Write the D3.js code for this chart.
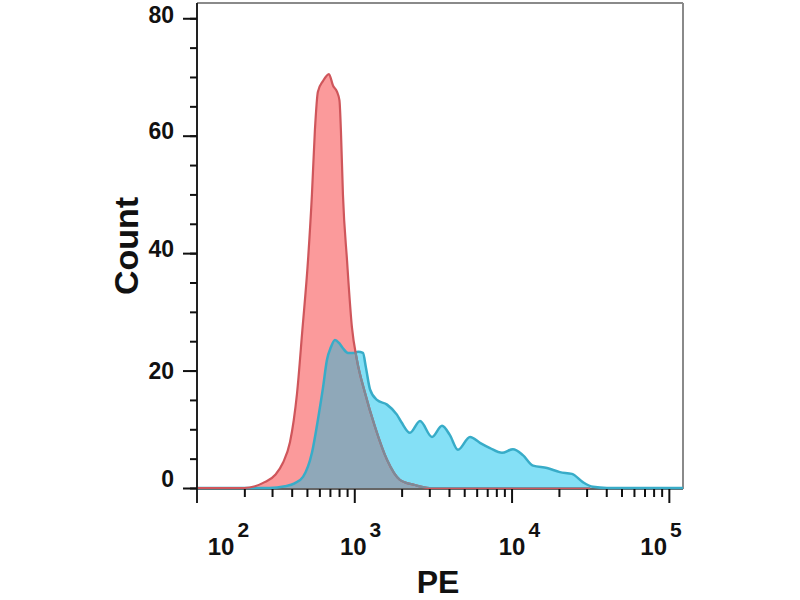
<!DOCTYPE html>
<html>
<head>
<meta charset="utf-8">
<script src="https://cdn.jsdelivr.net/npm/d3@7"></script>
<style>
  body { margin: 0; background: #fff; }
  text { font-family: "Liberation Sans", Arial, sans-serif; font-weight: bold; fill: #111; }
</style>
</head>
<body>
<svg id="chart" width="800" height="600"></svg>
<script>
// control (red) histogram, PE value -> count
const redPE    = [100, 200, 234, 269, 316, 352, 390, 412, 432, 468, 508, 538, 562, 587, 632, 690, 733, 776, 805, 822, 847, 899, 966, 1040, 1170, 1355, 1615, 1950, 2430, 3020, 31600];
const redCount = [0,   0,   0.3, 1.0, 2.3, 4.3, 7.8, 11.5, 16, 27, 38.8, 50, 61, 67.5, 69.3, 70.5, 68.5, 67.5, 66, 61, 50, 38.8, 27.4, 21.8, 16.2, 10.4, 4.8, 1.4, 0.5, 0, 0];

// stained (blue) histogram
const bluePE    = [100, 288, 363, 417, 472, 538, 587, 632, 670, 711, 753, 800, 847, 912, 982, 1057, 1135, 1186, 1259, 1393, 1615, 1866, 1995, 2259, 2618, 3119, 3614, 4055, 4560, 5445, 6295, 7295, 8690, 10200, 11800, 13700, 16800, 20300, 24200, 28400, 32900, 40400, 123000];
const blueCount = [0,   0,   0.3, 0.8, 1.9, 6,   11.6, 17, 21.8, 24, 25.2, 24.7, 23.8, 23, 23, 23.2, 23, 20.5, 16.8, 15, 14.2, 12.5, 11.2, 9.4, 11.4, 8.7, 10.6, 9, 6.5, 8.7, 7.7, 6.8, 6, 6.6, 5.6, 3.8, 3.4, 2.7, 2.4, 1, 0.2, 0, 0];

const yMajor = [0, 20, 40, 60, 80];
const yMinor = d3.range(0, 81, 5);
const yLabelAt = [1.6, 20, 40.7, 60.8, 80.6];   // label centres as drawn in the figure
const xDecades = [2, 3, 4, 5];
const xLabelLog = [2.2, 3.04, 4.05, 4.95];

const svg = d3.select('#chart');
const pLeft = 197, pRight = 683, pTop = 3, pBottom = 488;

const x = d3.scaleLog().domain([100, Math.pow(10, 5.09)]).range([pLeft, pRight]);
const y = d3.scaleLinear().domain([0, 82.6]).range([pBottom, pTop]);

const red = redPE.map((v, i) => ({ v: v, c: redCount[i] }));
const blue = bluePE.map((v, i) => ({ v: v, c: blueCount[i] }));

const area = d3.area().curve(d3.curveMonotoneX).x(d => x(d.v)).y0(y(0)).y1(d => y(d.c));
const line = d3.line().curve(d3.curveMonotoneX).x(d => x(d.v)).y(d => y(d.c));

const defs = svg.append('defs');
defs.append('clipPath').attr('id', 'clipRed').append('path').attr('d', area(red));
defs.append('clipPath').attr('id', 'clipBlue').append('path').attr('d', area(blue));

// frame
svg.append('line').attr('x1', pLeft).attr('x2', pRight).attr('y1', pTop).attr('y2', pTop)
   .attr('stroke', '#8a8a8a').attr('stroke-width', 2);
svg.append('line').attr('x1', pRight).attr('x2', pRight).attr('y1', pTop).attr('y2', pBottom + 1)
   .attr('stroke', '#8a8a8a').attr('stroke-width', 2);
svg.append('line').attr('x1', pLeft).attr('x2', pRight).attr('y1', pBottom + 1).attr('y2', pBottom + 1)
   .attr('stroke', '#333').attr('stroke-width', 1.5);

const plot = svg.append('g');
plot.append('path').attr('d', area(blue)).attr('fill', '#84e0f6');
plot.append('path').attr('d', area(red)).attr('fill', '#fb9a9b');
plot.append('path').attr('d', area(blue)).attr('fill', '#8fa8b9').attr('clip-path', 'url(#clipRed)');
plot.append('path').attr('d', line(blue)).attr('fill', 'none').attr('stroke', '#38acc8').attr('stroke-width', 2.5);
plot.append('path').attr('d', line(red)).attr('fill', 'none').attr('stroke', '#cf565b').attr('stroke-width', 2.2);
plot.append('path').attr('d', line(red)).attr('fill', 'none').attr('stroke', '#7a8b99').attr('stroke-width', 2.2)
    .attr('clip-path', 'url(#clipBlue)');

// y axis
svg.append('line').attr('x1', pLeft).attr('x2', pLeft).attr('y1', pTop).attr('y2', 503)
   .attr('stroke', '#222').attr('stroke-width', 2);

const yMinorAxis = svg.append('g').attr('transform', `translate(${pLeft},0)`)
   .call(d3.axisLeft(y).tickValues(yMinor).tickSize(7).tickFormat(''));
const yMajorAxis = svg.append('g').attr('transform', `translate(${pLeft},0)`)
   .call(d3.axisLeft(y).tickValues(yMajor).tickSize(14).tickFormat(''));
[yMinorAxis, yMajorAxis].forEach(g => {
  g.select('.domain').remove();
  g.selectAll('line').attr('stroke', '#111').attr('stroke-width', 2);
});

svg.append('g').selectAll('text').data(yMajor).join('text')
   .attr('x', pLeft - 23)
   .attr('y', (d, i) => y(yLabelAt[i]))
   .attr('dy', '0.36em')
   .attr('text-anchor', 'end')
   .style('font-size', '23px')
   .text(d => d);

// x axis
const xMinorVals = [];
xDecades.slice(0, 3).forEach(p => { for (let k = 2; k < 10; k++) xMinorVals.push(k * Math.pow(10, p)); });
const xMinorAxis = svg.append('g').attr('transform', `translate(0,${pBottom + 1})`)
   .call(d3.axisBottom(x).tickValues(xMinorVals).tickSize(8).tickFormat(''));
const xMajorAxis = svg.append('g').attr('transform', `translate(0,${pBottom + 1})`)
   .call(d3.axisBottom(x).tickValues(xDecades.slice(1).map(p => Math.pow(10, p))).tickSize(14).tickFormat(''));
[xMinorAxis, xMajorAxis].forEach(g => {
  g.select('.domain').remove();
  g.selectAll('line').attr('stroke', '#111').attr('stroke-width', 2);
});

const xl = svg.append('g').selectAll('text').data(xDecades).join('text')
   .attr('x', (d, i) => x(Math.pow(10, xLabelLog[i])))
   .attr('y', 555)
   .attr('text-anchor', 'middle')
   .style('font-size', '24px');
xl.append('tspan').text('10');
xl.append('tspan').attr('dx', 3).attr('dy', -18).style('font-size', '21px').text(d => d);

// axis titles
svg.append('text')
   .attr('transform', 'translate(138,246) rotate(-90)')
   .attr('text-anchor', 'middle')
   .style('font-size', '34px')
   .text('Count');
svg.append('text')
   .attr('x', 438).attr('y', 593)
   .attr('text-anchor', 'middle')
   .style('font-size', '32px')
   .text('PE');
</script>
</body>
</html>
